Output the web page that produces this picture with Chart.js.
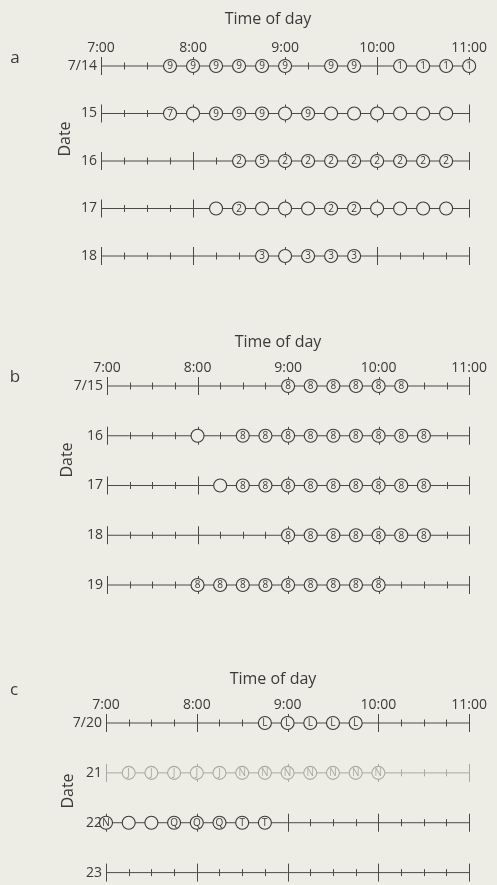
<!DOCTYPE html>
<html lang="en">
<head>
<meta charset="UTF-8">
<title>Time of day by date</title>
<script src="https://cdn.jsdelivr.net/npm/chart.js@4.4.1/dist/chart.umd.min.js"></script>
<style>
  body { margin: 0; background: #edede6; width: 497px; height: 885px; overflow: hidden; position: relative; }
  canvas { position: absolute; left: 0; }
</style>
</head>
<body>
<canvas id="panelA" width="497" height="300" style="top:0px"></canvas>
<canvas id="panelB" width="497" height="300" style="top:320px"></canvas>
<canvas id="panelC" width="497" height="228" style="top:657px"></canvas>
<script>
// quarter-hour slots along the time axis
const times = ['7:00','7:15','7:30','7:45','8:00','8:15','8:30','8:45','9:00',
               '9:15','9:30','9:45','10:00','10:15','10:30','10:45','11:00'];

// null = no circle, '' = empty circle, otherwise the mark inside the circle
const datesA = ['7/14', '15', '16', '17', '18'];
const rowA14 = [null,null,null,'9','9','9','9','9','9',null,'9','9',null,'1','1','1','1'];
const rowA15 = [null,null,null,'7','','9','9','9','','9','','','','','','',null];
const rowA16 = [null,null,null,null,null,null,'2','5','2','2','2','2','2','2','2','2',null];
const rowA17 = [null,null,null,null,null,'','2','','','','2','2','','','','',null];
const rowA18 = [null,null,null,null,null,null,null,'3','','3','3','3',null,null,null,null,null];

const datesB = ['7/15', '16', '17', '18', '19'];
const rowB15 = [null,null,null,null,null,null,null,null,'8','8','8','8','8','8',null,null,null];
const rowB16 = [null,null,null,null,'',null,'8','8','8','8','8','8','8','8','8',null,null];
const rowB17 = [null,null,null,null,null,'','8','8','8','8','8','8','8','8','8',null,null];
const rowB18 = [null,null,null,null,null,null,null,null,'8','8','8','8','8','8','8',null,null];
const rowB19 = [null,null,null,null,'8','8','8','8','8','8','8','8','8',null,null,null,null];

const datesC = ['7/20', '21', '22', '23'];
const rowC20 = [null,null,null,null,null,null,null,'L','L','L','L','L',null,null,null,null,null];
const rowC21 = [null,'J','J','J','J','J','N','N','N','N','N','N','N',null,null,null,null];
const rowC22 = ['N','','','Q','Q','Q','T','T',null,null,null,null,null,null,null,null,null];
const rowC23 = [null,null,null,null,null,null,null,null,null,null,null,null,null,null,null,null,null];

const fadedRows = ['21'];

const BG = '#edede6';
const INK = '#3a3a3a';
const LINE = '#4a4a4a';
const FAINT = '#a9a9a2';
const FONT = '"Open Sans", "Noto Sans", sans-serif';

const ruleTicks = {
  id: 'ruleTicks',
  beforeDatasetsDraw(chart) {
    const ctx = chart.ctx;
    chart.data.datasets.forEach((ds, d) => {
      const meta = chart.getDatasetMeta(d);
      ctx.save();
      ctx.strokeStyle = ds.borderColor;
      ctx.lineWidth = 1;
      meta.data.forEach((pt, i) => {
        const len = i % 4 === 0 ? 9 : 3.5;
        ctx.beginPath();
        ctx.moveTo(Math.round(pt.x) + 0.5, pt.y - len);
        ctx.lineTo(Math.round(pt.x) + 0.5, pt.y + len);
        ctx.stroke();
      });
      ctx.restore();
    });
  },
  afterDatasetsDraw(chart) {
    const ctx = chart.ctx;
    chart.data.datasets.forEach((ds, d) => {
      const meta = chart.getDatasetMeta(d);
      ctx.save();
      ctx.fillStyle = ds.pointBorderColor;
      ctx.font = '10px ' + FONT;
      ctx.textAlign = 'center';
      ctx.textBaseline = 'middle';
      meta.data.forEach((pt, i) => {
        const m = ds.marks[i];
        if (m) ctx.fillText(m, pt.x, pt.y + 0.5);
      });
      ctx.restore();
    });
  },
  afterDraw(chart, args, opts) {
    const ctx = chart.ctx;
    ctx.save();
    ctx.fillStyle = INK;
    ctx.textAlign = 'center';
    ctx.textBaseline = 'middle';
    ctx.font = '17px ' + FONT;
    ctx.fillText(opts.letter, opts.letterX, opts.letterY);
    ctx.font = '16px ' + FONT;
    ctx.fillText('Time of day', opts.titleX, opts.titleY);
    ctx.translate(opts.dateX, opts.dateY);
    ctx.rotate(-Math.PI / 2);
    ctx.fillText('Date', 0, 0);
    ctx.restore();
  }
};

function panel(id, dates, rows, deco) {
  new Chart(document.getElementById(id), {
    type: 'line',
    data: {
      labels: times,
      datasets: rows.map((row, r) => {
        const faded = fadedRows.includes(dates[r]);
        return {
          label: dates[r],
          data: row.map(() => dates[r]),
          marks: row,
          clip: false,
          borderColor: faded ? FAINT : LINE,
          borderWidth: 1,
          pointRadius: row.map(v => v === null ? 0 : 6.5),
          pointHoverRadius: 0,
          pointBackgroundColor: BG,
          pointBorderColor: faded ? FAINT : INK,
          pointBorderWidth: 1.1,
          tension: 0
        };
      })
    },
    options: {
      responsive: false,
      animation: false,
      events: [],
      layout: { padding: { left: 0, right: deco.right, top: 0, bottom: deco.bottom } },
      plugins: {
        legend: { display: false },
        tooltip: { enabled: false },
        ruleTicks: deco
      },
      scales: {
        x: {
          type: 'category',
          position: 'top',
          labels: times,
          offset: false,
          grid: { display: false, drawTicks: false },
          border: { display: false },
          ticks: {
            autoSkip: false,
            maxRotation: 0,
            padding: 10,
            color: INK,
            font: { family: FONT, size: 14 },
            callback: (v, i) => times[i].endsWith(':00') ? times[i] : ''
          },
          afterFit: s => { s.height = 66; }
        },
        y: {
          type: 'category',
          labels: dates,
          offset: false,
          grid: { display: false, drawTicks: false },
          border: { display: false },
          ticks: { padding: 4, color: INK, font: { family: FONT, size: 14 } },
          afterFit: s => { s.width = deco.left; }
        }
      }
    },
    plugins: [ruleTicks]
  });
}

panel('panelA', datesA, [rowA14, rowA15, rowA16, rowA17, rowA18],
  { left: 101, right: 24, bottom: 44, letter: 'a', letterX: 15, letterY: 58,
    titleX: 268, titleY: 19, dateX: 65, dateY: 139 });
panel('panelB', datesB, [rowB15, rowB16, rowB17, rowB18, rowB19],
  { left: 107, right: 19, bottom: 35, letter: 'b', letterX: 15, letterY: 57,
    titleX: 278, titleY: 22, dateX: 67, dateY: 140 });
panel('panelC', datesC, [rowC20, rowC21, rowC22, rowC23],
  { left: 106, right: 22, bottom: 12, letter: 'c', letterX: 14, letterY: 33,
    titleX: 273, titleY: 22, dateX: 68, dateY: 134 });
</script>
</body>
</html>
